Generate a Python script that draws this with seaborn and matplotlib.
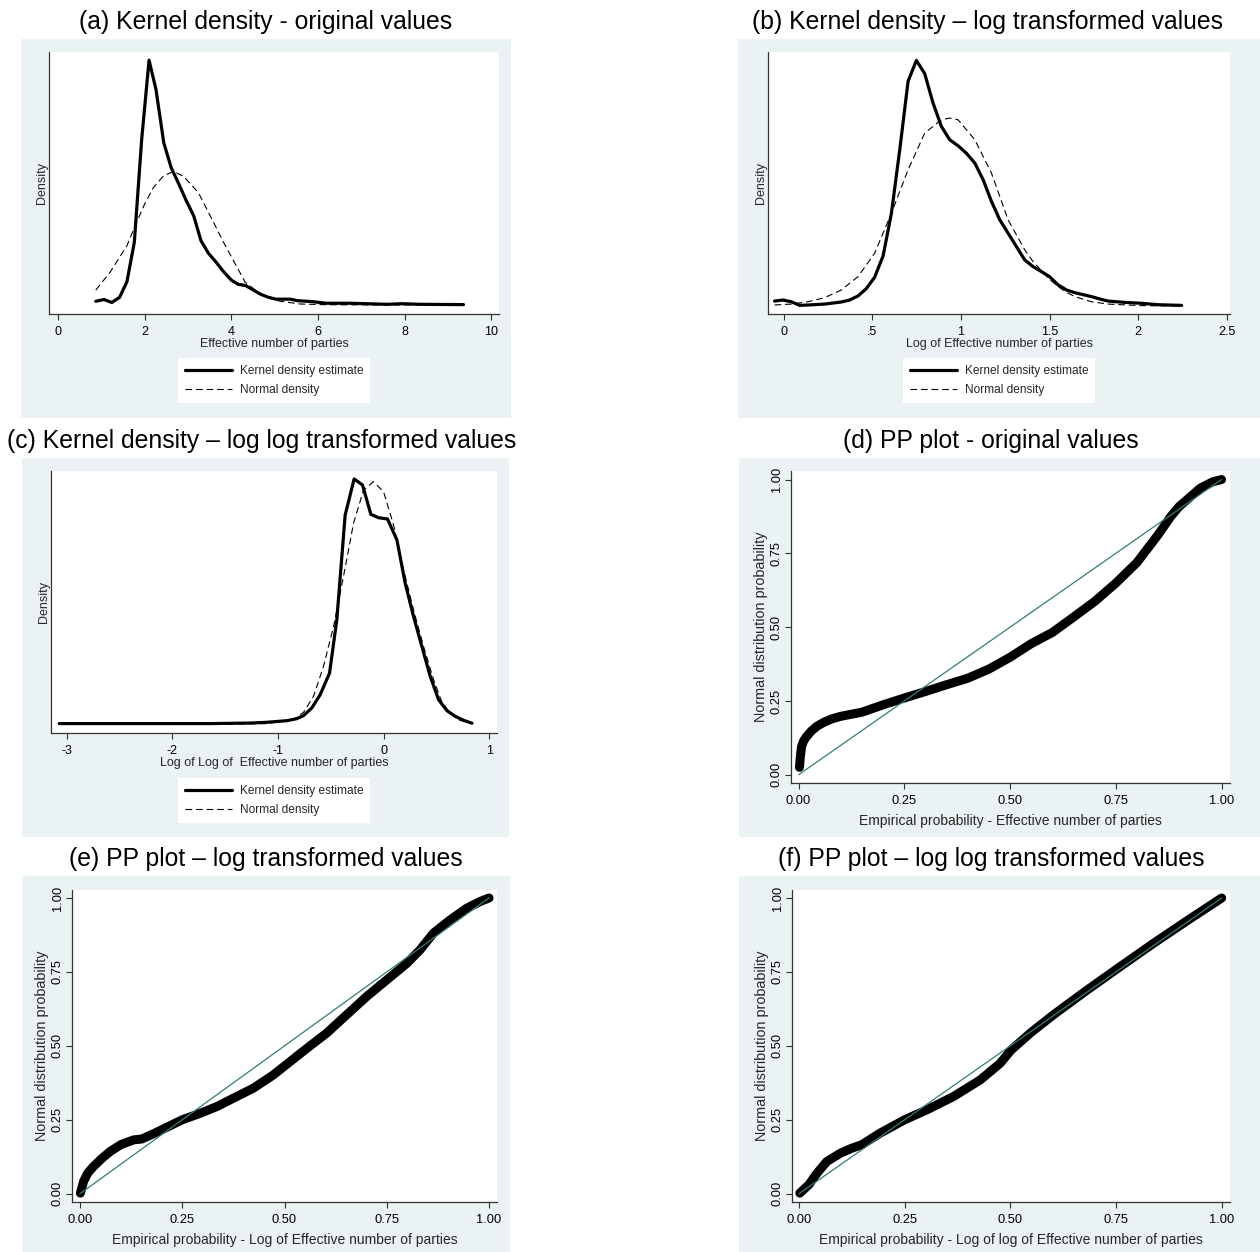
import numpy as np
import pandas as pd
import matplotlib
matplotlib.use("Agg")
import matplotlib.pyplot as plt
import seaborn as sns
from matplotlib.lines import Line2D
from matplotlib.patches import Rectangle

# (a) kernel density - original values
enp_kde_x = [0.87, 1.06, 1.24, 1.42, 1.59, 1.76, 1.93, 2.10, 2.26, 2.44, 2.61, 2.79, 2.96, 3.13,
             3.30, 3.47, 3.65, 3.82, 4.00, 4.16, 4.33, 4.51, 4.68, 4.86, 5.03, 5.36, 5.53, 5.86,
             6.20, 6.74, 7.60, 7.94, 8.36, 9.36]
enp_kde_y = [0.012, 0.018, 0.008, 0.025, 0.077, 0.207, 0.547, 0.809, 0.712, 0.536, 0.454, 0.399,
             0.344, 0.295, 0.212, 0.171, 0.141, 0.110, 0.082, 0.068, 0.064, 0.049, 0.035, 0.025,
             0.019, 0.019, 0.014, 0.011, 0.0055, 0.0055, 0.002, 0.004, 0.002, 0.001]
enp_norm_x = [0.87, 1.20, 1.59, 1.78, 1.99, 2.20, 2.43, 2.66, 2.89, 3.24, 3.55, 3.82, 4.05,
              4.32, 4.67, 5.05, 5.59, 6.24, 7.50, 9.36]
enp_norm_y = [0.049, 0.108, 0.196, 0.262, 0.331, 0.388, 0.426, 0.441, 0.426, 0.371, 0.284,
              0.207, 0.146, 0.075, 0.036, 0.014, 0.003, 0.0005, 0.0, 0.0]

# (b) kernel density - log values
log_kde_x = [-0.053, -0.006, 0.041, 0.089, 0.136, 0.23, 0.324, 0.371, 0.418, 0.465, 0.512, 0.56,
             0.607, 0.654, 0.701, 0.748, 0.795, 0.842, 0.889, 0.936, 0.983, 1.03, 1.078, 1.125,
             1.172, 1.219, 1.266, 1.313, 1.36, 1.407, 1.454, 1.50, 1.549, 1.596, 1.643, 1.69,
             1.737, 1.784, 1.831, 1.925, 2.02, 2.114, 2.246]
log_kde_y = [0.043, 0.051, 0.038, 0.010, 0.013, 0.020, 0.036, 0.051, 0.082, 0.138, 0.225, 0.389,
             0.716, 1.202, 1.726, 1.887, 1.785, 1.560, 1.381, 1.279, 1.233, 1.176, 1.100, 0.972,
             0.806, 0.665, 0.563, 0.460, 0.358, 0.307, 0.269, 0.230, 0.166, 0.128, 0.107, 0.092,
             0.077, 0.059, 0.043, 0.033, 0.026, 0.015, 0.010]
log_norm_x = [-0.053, 0.041, 0.136, 0.23, 0.324, 0.418, 0.512, 0.607, 0.701, 0.795, 0.889,
              0.936, 0.983, 1.078, 1.172, 1.266, 1.36, 1.407, 1.454, 1.50, 1.549, 1.596, 1.643,
              1.737, 1.831, 2.02, 2.246]
log_norm_y = [0.013, 0.020, 0.038, 0.069, 0.128, 0.230, 0.409, 0.716, 1.049, 1.330, 1.432,
              1.445, 1.432, 1.279, 1.023, 0.665, 0.435, 0.345, 0.276, 0.210, 0.153, 0.110,
              0.077, 0.038, 0.020, 0.008, 0.005]

# (c) kernel density - log log values
loglog_kde_x = [-3.07, -2.37, -1.64, -1.26, -1.11, -0.916, -0.822, -0.758, -0.68, -0.60, -0.512,
                -0.443, -0.364, -0.279, -0.20, -0.121, -0.048, 0.037, 0.126, 0.204, 0.283,
                0.362, 0.441, 0.52, 0.60, 0.678, 0.757, 0.836]
loglog_kde_y = [0.004, 0.004, 0.004, 0.007, 0.011, 0.020, 0.031, 0.048, 0.090, 0.164, 0.283,
                0.577, 1.156, 1.355, 1.322, 1.160, 1.141, 1.134, 1.018, 0.779, 0.596, 0.430,
                0.265, 0.136, 0.075, 0.044, 0.022, 0.006]
loglog_norm_x = [-3.07, -1.60, -1.10, -0.853, -0.758, -0.664, -0.569, -0.474, -0.38, -0.285,
                 -0.19, -0.096, -0.001, 0.094, 0.189, 0.283, 0.378, 0.473, 0.55, 0.63, 0.72,
                 0.836]
loglog_norm_y = [0.0, 0.0, 0.004, 0.026, 0.066, 0.154, 0.320, 0.540, 0.816, 1.110, 1.294,
                 1.340, 1.285, 1.101, 0.853, 0.632, 0.430, 0.246, 0.125, 0.060, 0.022, 0.006]

# (d) PP plot - original values
pp_orig_x = [0.002, 0.004, 0.007, 0.012, 0.019, 0.030, 0.043, 0.06, 0.08, 0.10, 0.15, 0.20,
             0.25, 0.30, 0.35, 0.40, 0.45, 0.50, 0.55, 0.60, 0.65, 0.70, 0.75, 0.80, 0.85,
             0.88, 0.90, 0.95, 0.98, 1.0]
pp_orig_y = [0.025, 0.06, 0.096, 0.115, 0.13, 0.148, 0.164, 0.178, 0.19, 0.198, 0.212, 0.237,
             0.26, 0.282, 0.305, 0.327, 0.358, 0.398, 0.444, 0.482, 0.534, 0.587, 0.649, 0.719,
             0.813, 0.875, 0.909, 0.971, 0.993, 1.0]

# (e) PP plot - log values
pp_log_x = [0.001, 0.009, 0.019, 0.033, 0.054, 0.074, 0.10, 0.131, 0.151, 0.18, 0.25, 0.294,
            0.335, 0.375, 0.424, 0.473, 0.514, 0.555, 0.603, 0.652, 0.701, 0.75, 0.799, 0.831,
            0.864, 0.905, 0.945, 0.978, 1.0]
pp_log_y = [0.002, 0.042, 0.07, 0.092, 0.12, 0.143, 0.166, 0.182, 0.185, 0.203, 0.25, 0.272,
            0.295, 0.323, 0.357, 0.402, 0.447, 0.492, 0.543, 0.605, 0.667, 0.723, 0.779, 0.824,
            0.881, 0.926, 0.965, 0.988, 1.0]

# (f) PP plot - log log values
pp_loglog_x = [0.002, 0.023, 0.043, 0.066, 0.098, 0.125, 0.149, 0.192, 0.25, 0.303, 0.366,
               0.429, 0.476, 0.502, 0.547, 0.602, 0.681, 0.76, 0.838, 0.917, 1.0]
pp_loglog_y = [0.002, 0.03, 0.07, 0.109, 0.137, 0.154, 0.166, 0.205, 0.25, 0.284, 0.329,
               0.385, 0.441, 0.486, 0.543, 0.605, 0.688, 0.768, 0.846, 0.922, 1.0]

diag = [0.0, 1.0]
pp_ticks = [0, 0.25, 0.5, 0.75, 1.0]
pp_ticklabels = ["0.00", "0.25", "0.50", "0.75", "1.00"]

titles = ["(a) Kernel density - original values",
          "(b) Kernel density \u2013 log transformed values",
          "(c) Kernel density \u2013 log log transformed values",
          "(d) PP plot - original values",
          "(e) PP plot \u2013 log transformed values",
          "(f) PP plot \u2013 log log transformed values"]

sns.set_theme(style="ticks")
plt.rcParams["font.family"] = ["Liberation Sans", "DejaVu Sans"]

BG = "#EAF2F3"
TEAL = "#2F7F7B"
SPINE = "#333333"
W, H = 1260, 1252
fig = plt.figure(figsize=(W / 100, H / 100), dpi=100)
fig.patch.set_facecolor("white")


def box(l, t, r, b):
    return [l / W, 1 - b / H, (r - l) / W, (b - t) / H]


def background(l, t, r, b):
    fig.add_artist(Rectangle((l / W, 1 - b / H), (r - l) / W, (b - t) / H,
                             transform=fig.transFigure, facecolor=BG,
                             edgecolor="none", zorder=-1))


def style_axes(ax):
    ax.set_facecolor("white")
    for s in ["top", "right"]:
        ax.spines[s].set_visible(False)
    for s in ["left", "bottom"]:
        ax.spines[s].set_color(SPINE)
        ax.spines[s].set_linewidth(0.9)
    ax.tick_params(direction="out", length=4, width=0.8, color=SPINE, labelcolor="black")
    ax.tick_params(axis="x", pad=4.5)
    ax.tick_params(axis="y", pad=2)


def density_panel(axbox, kx, ky, nx, ny, xlim, ylim, ticks, ticklabels, xlabel, leg_top):
    ax = fig.add_axes(box(*axbox))
    sns.lineplot(x=kx, y=ky, ax=ax, color="black", linewidth=2.3, sort=False)
    sns.lineplot(x=nx, y=ny, ax=ax, color="black", linewidth=0.8, sort=False,
                 linestyle=(0, (6, 3.5)))
    style_axes(ax)
    ax.set_xlim(*xlim)
    ax.set_ylim(*ylim)
    ax.set_xticks(ticks)
    ax.set_xticklabels(ticklabels, fontsize=9)
    ax.set_yticks([])
    ax.set_xlabel(xlabel, fontsize=9, labelpad=0)
    ax.set_ylabel("Density", fontsize=9, labelpad=0.5)
    handles = [Line2D([], [], color="black", lw=2.3),
               Line2D([], [], color="black", lw=0.8, linestyle=(0, (6, 3.5)))]
    cx = (axbox[0] + axbox[2]) / 2 / W
    leg = ax.legend(handles, ["Kernel density estimate", "Normal density"],
                    loc="upper center", bbox_to_anchor=(cx, 1 - leg_top / H),
                    bbox_transform=fig.transFigure, fontsize=8.6, frameon=True,
                    fancybox=False, handlelength=4, handletextpad=0.6,
                    borderpad=0.6, labelspacing=0.55, borderaxespad=0)
    leg.get_frame().set_facecolor("white")
    leg.get_frame().set_edgecolor("none")
    leg.get_frame().set_alpha(1)
    return ax


def pp_panel(axbox, px, py, xlim, ylim, xlabel):
    ax = fig.add_axes(box(*axbox))
    sns.lineplot(x=px, y=py, ax=ax, color="black", linewidth=6.5, sort=False,
                 solid_capstyle="round", solid_joinstyle="round")
    sns.lineplot(x=diag, y=diag, ax=ax, color=TEAL, linewidth=0.9, zorder=5)
    style_axes(ax)
    ax.set_xlim(*xlim)
    ax.set_ylim(*ylim)
    ax.set_xticks(pp_ticks)
    ax.set_xticklabels(pp_ticklabels, fontsize=9.3)
    ax.set_yticks(pp_ticks)
    ax.set_yticklabels(pp_ticklabels, fontsize=9.3, rotation=90, va="center")
    ax.set_xlabel(xlabel, fontsize=10, labelpad=5)
    ax.set_ylabel("Normal distribution probability", fontsize=10.4, labelpad=2)
    return ax


# backgrounds
background(21, 39, 511, 418)
background(738, 39, 1260, 418)
background(22, 458, 509, 837)
background(739, 458, 1260, 837)
background(22, 876, 510, 1252)
background(739, 876, 1260, 1252)

density_panel((49, 52, 499, 314), enp_kde_x, enp_kde_y, enp_norm_x, enp_norm_y,
              (-0.21, 10.18), (-0.030, 0.836), [0, 2, 4, 6, 8, 10],
              ["0", "2", "4", "6", "8", "10"], "Effective number of parties", 358)
density_panel((768, 52, 1230, 314), log_kde_x, log_kde_y, log_norm_x, log_norm_y,
              (-0.09, 2.519), (-0.056, 1.951), [0, 0.5, 1, 1.5, 2, 2.5],
              ["0", ".5", "1", "1.5", "2", "2.5"], "Log of Effective number of parties", 358)
density_panel((51, 471, 497, 733), loglog_kde_x, loglog_kde_y, loglog_norm_x, loglog_norm_y,
              (-3.148, 1.073), (-0.048, 1.399), [-3, -2, -1, 0, 1],
              ["-3", "-2", "-1", "0", "1"], "Log of Log of  Effective number of parties", 778)

pp_panel((791, 471, 1230, 783), pp_orig_x, pp_orig_y, (-0.018, 1.02), (-0.028, 1.029),
         "Empirical probability - Effective number of parties")
pp_panel((72, 890, 497, 1202), pp_log_x, pp_log_y, (-0.0195, 1.0195), (-0.028, 1.027),
         "Empirical probability - Log of Effective number of parties")
pp_panel((792, 890, 1230, 1202), pp_loglog_x, pp_loglog_y, (-0.0165, 1.0197), (-0.028, 1.027),
         "Empirical probability - Log of log of Effective number of parties")

# panel titles
title_pos = [(266, 22), (988, 22), (262, 441), (991, 441), (266, 859), (991, 859)]
for (tx, ty), t in zip(title_pos, titles):
    fig.text(tx / W, 1 - ty / H, t, ha="center", va="center", fontsize=17.8, color="black")

fig.savefig("out.png", dpi=100)
